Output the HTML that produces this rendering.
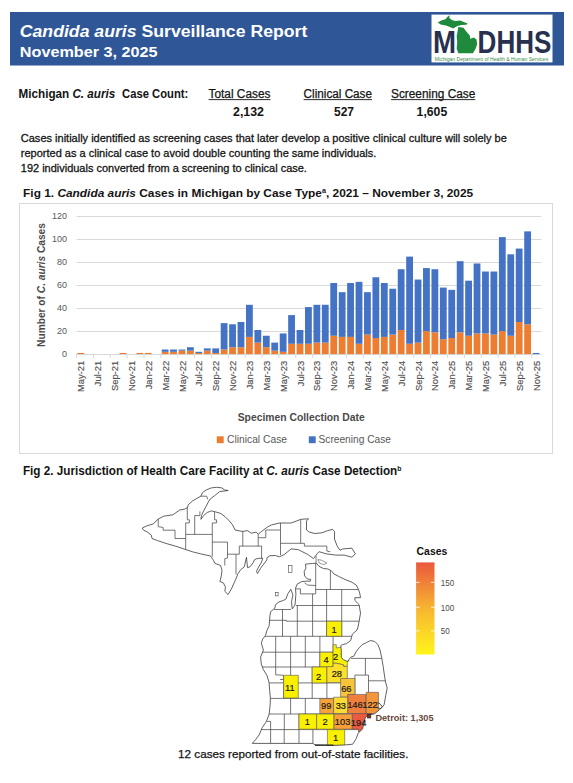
<!DOCTYPE html>
<html><head><meta charset="utf-8"><title>Candida auris Surveillance Report</title>
<style>
html,body{margin:0;padding:0;background:#ffffff;}
body{width:573px;height:783px;overflow:hidden;}
svg{display:block;font-family:"Liberation Sans", sans-serif;}
</style></head><body>
<svg width="573" height="783" viewBox="0 0 573 783">
<rect x="10" y="12" width="554" height="53.5" fill="#2F5798"/>
<text x="19.8" y="36.8" font-size="16.8" font-weight="bold" font-style="normal" fill="#ffffff" text-anchor="start" textLength="287.5" lengthAdjust="spacingAndGlyphs" ><tspan font-style="italic">Candida auris</tspan> Surveillance Report</text>
<text x="19.8" y="56.9" font-size="14.4" font-weight="bold" font-style="normal" fill="#ffffff" text-anchor="start" textLength="137.8" lengthAdjust="spacingAndGlyphs" >November 3, 2025</text>
<rect x="431.5" y="14.6" width="121" height="47.8" fill="#ffffff"/>

<g>
<text x="433.1" y="53.4" font-size="31" font-weight="bold" fill="#27304f" textLength="23" lengthAdjust="spacingAndGlyphs">M</text>
<text x="477.6" y="53.4" font-size="31" font-weight="bold" fill="#27304f" textLength="73.8" lengthAdjust="spacingAndGlyphs">DHHS</text>
<polygon fill="#1f8a3b" points="437.8,22.6 441.2,20.6 445.4,19.2 447.8,16.6 449.8,15.2 449.2,17.8 451.8,20.0 455.3,21.0 460.4,20.5 463.8,22.0 467.6,23.4 466.4,24.8 461.6,24.9 457.4,26.0 453.2,28.6 451.0,27.4 446.0,25.4 440.6,24.6"/>
<polygon fill="#1f8a3b" points="458.3,27.1 463.5,27.7 466.1,31.3 469.8,35.5 470.3,38.7 474,37.6 476.6,39.7 477.1,44.4 475.5,49.1 472.9,53.3 458.3,53.3 456.7,48.6 457.2,42.3 456.7,36 457.7,30.8"/>
<text x="434.8" y="60.6" font-size="5" fill="#3d8a4a" textLength="113.4" lengthAdjust="spacingAndGlyphs">Michigan Department of Health &amp; Human Services</text>
</g>
<text x="18.6" y="97.9" font-size="12" font-weight="bold" font-style="normal" fill="#141414" text-anchor="start" textLength="96.6" lengthAdjust="spacingAndGlyphs" >Michigan <tspan font-style="italic">C. auris</tspan></text>
<text x="122.1" y="97.9" font-size="12" font-weight="bold" font-style="normal" fill="#141414" text-anchor="start" textLength="66.2" lengthAdjust="spacingAndGlyphs" >Case Count:</text>
<text x="208.6" y="97.9" font-size="12" font-weight="normal" font-style="normal" fill="#141414" text-anchor="start" textLength="61.8" lengthAdjust="spacingAndGlyphs" stroke="#141414" stroke-width="0.25">Total Cases</text>
<rect x="208.6" y="99.2" width="61.8" height="0.9" fill="#141414"/>
<text x="233" y="115.7" font-size="12" font-weight="bold" font-style="normal" fill="#141414" text-anchor="start" textLength="31" lengthAdjust="spacingAndGlyphs" >2,132</text>
<text x="303.6" y="97.9" font-size="12" font-weight="normal" font-style="normal" fill="#141414" text-anchor="start" textLength="68.4" lengthAdjust="spacingAndGlyphs" stroke="#141414" stroke-width="0.25">Clinical Case</text>
<rect x="303.6" y="99.2" width="68.4" height="0.9" fill="#141414"/>
<text x="334" y="115.7" font-size="12" font-weight="bold" font-style="normal" fill="#141414" text-anchor="start" textLength="20" lengthAdjust="spacingAndGlyphs" >527</text>
<text x="391" y="97.9" font-size="12" font-weight="normal" font-style="normal" fill="#141414" text-anchor="start" textLength="84.3" lengthAdjust="spacingAndGlyphs" stroke="#141414" stroke-width="0.25">Screening Case</text>
<rect x="391" y="99.2" width="84.3" height="0.9" fill="#141414"/>
<text x="416.6" y="115.7" font-size="12" font-weight="bold" font-style="normal" fill="#141414" text-anchor="start" textLength="30.6" lengthAdjust="spacingAndGlyphs" >1,605</text>
<text x="20.8" y="142.1" font-size="10.6" font-weight="normal" font-style="normal" fill="#141414" text-anchor="start" textLength="486" lengthAdjust="spacingAndGlyphs" stroke="#141414" stroke-width="0.28">Cases initially identified as screening cases that later develop a positive clinical culture will solely be</text>
<text x="20.8" y="156.9" font-size="10.6" font-weight="normal" font-style="normal" fill="#141414" text-anchor="start" textLength="355.5" lengthAdjust="spacingAndGlyphs" stroke="#141414" stroke-width="0.28">reported as a clinical case to avoid double counting the same individuals.</text>
<text x="20.8" y="171.8" font-size="10.6" font-weight="normal" font-style="normal" fill="#141414" text-anchor="start" textLength="286.1" lengthAdjust="spacingAndGlyphs" stroke="#141414" stroke-width="0.28">192 individuals converted from a screening to clinical case.</text>
<text x="23.1" y="197.4" font-size="11.6" font-weight="bold" font-style="normal" fill="#141414" text-anchor="start" textLength="450.1" lengthAdjust="spacingAndGlyphs" >Fig 1. <tspan font-style="italic">Candida auris</tspan> Cases in Michigan by Case Type<tspan font-size="7" dy="-4">a</tspan><tspan dy="4">, 2021 &#8211;  November 3, 2025</tspan></text>
<rect x="19.5" y="203.5" width="533" height="250" fill="none" stroke="#D9D9D9" stroke-width="1"/>
<text x="62.0" y="357.1" font-size="8.6" font-weight="normal" font-style="normal" fill="#595959" text-anchor="start" textLength="5.0" lengthAdjust="spacingAndGlyphs" >0</text>
<rect x="76.60" y="331" width="464.60" height="1" fill="#D9D9D9"/>
<text x="57.0" y="334.16" font-size="8.6" font-weight="normal" font-style="normal" fill="#595959" text-anchor="start" textLength="10.0" lengthAdjust="spacingAndGlyphs" >20</text>
<rect x="76.60" y="308" width="464.60" height="1" fill="#D9D9D9"/>
<text x="57.0" y="311.22" font-size="8.6" font-weight="normal" font-style="normal" fill="#595959" text-anchor="start" textLength="10.0" lengthAdjust="spacingAndGlyphs" >40</text>
<rect x="76.60" y="285" width="464.60" height="1" fill="#D9D9D9"/>
<text x="57.0" y="288.28000000000003" font-size="8.6" font-weight="normal" font-style="normal" fill="#595959" text-anchor="start" textLength="10.0" lengthAdjust="spacingAndGlyphs" >60</text>
<rect x="76.60" y="262" width="464.60" height="1" fill="#D9D9D9"/>
<text x="57.0" y="265.34000000000003" font-size="8.6" font-weight="normal" font-style="normal" fill="#595959" text-anchor="start" textLength="10.0" lengthAdjust="spacingAndGlyphs" >80</text>
<rect x="76.60" y="239" width="464.60" height="1" fill="#D9D9D9"/>
<text x="52.0" y="242.40000000000003" font-size="8.6" font-weight="normal" font-style="normal" fill="#595959" text-anchor="start" textLength="15.0" lengthAdjust="spacingAndGlyphs" >100</text>
<rect x="76.60" y="216" width="464.60" height="1" fill="#D9D9D9"/>
<text x="52.0" y="219.46" font-size="8.6" font-weight="normal" font-style="normal" fill="#595959" text-anchor="start" textLength="15.0" lengthAdjust="spacingAndGlyphs" >120</text>
<rect x="76.60" y="354" width="464.60" height="1" fill="#D9D9D9"/>
<rect x="76.10" y="354" width="1" height="4" fill="#D9D9D9"/>
<rect x="92.96" y="354" width="1" height="4" fill="#D9D9D9"/>
<rect x="109.82" y="354" width="1" height="4" fill="#D9D9D9"/>
<rect x="126.68" y="354" width="1" height="4" fill="#D9D9D9"/>
<rect x="143.54" y="354" width="1" height="4" fill="#D9D9D9"/>
<rect x="160.40" y="354" width="1" height="4" fill="#D9D9D9"/>
<rect x="177.26" y="354" width="1" height="4" fill="#D9D9D9"/>
<rect x="194.12" y="354" width="1" height="4" fill="#D9D9D9"/>
<rect x="210.98" y="354" width="1" height="4" fill="#D9D9D9"/>
<rect x="227.84" y="354" width="1" height="4" fill="#D9D9D9"/>
<rect x="244.70" y="354" width="1" height="4" fill="#D9D9D9"/>
<rect x="261.56" y="354" width="1" height="4" fill="#D9D9D9"/>
<rect x="278.42" y="354" width="1" height="4" fill="#D9D9D9"/>
<rect x="295.28" y="354" width="1" height="4" fill="#D9D9D9"/>
<rect x="312.14" y="354" width="1" height="4" fill="#D9D9D9"/>
<rect x="329.00" y="354" width="1" height="4" fill="#D9D9D9"/>
<rect x="345.86" y="354" width="1" height="4" fill="#D9D9D9"/>
<rect x="362.72" y="354" width="1" height="4" fill="#D9D9D9"/>
<rect x="379.58" y="354" width="1" height="4" fill="#D9D9D9"/>
<rect x="396.44" y="354" width="1" height="4" fill="#D9D9D9"/>
<rect x="413.30" y="354" width="1" height="4" fill="#D9D9D9"/>
<rect x="430.16" y="354" width="1" height="4" fill="#D9D9D9"/>
<rect x="447.02" y="354" width="1" height="4" fill="#D9D9D9"/>
<rect x="463.88" y="354" width="1" height="4" fill="#D9D9D9"/>
<rect x="480.74" y="354" width="1" height="4" fill="#D9D9D9"/>
<rect x="497.60" y="354" width="1" height="4" fill="#D9D9D9"/>
<rect x="514.46" y="354" width="1" height="4" fill="#D9D9D9"/>
<rect x="531.32" y="354" width="1" height="4" fill="#D9D9D9"/>
<rect x="77.41" y="352.95" width="6.8" height="1.15" fill="#ED7D31"/>
<rect x="119.56" y="352.95" width="6.8" height="1.15" fill="#ED7D31"/>
<rect x="136.42" y="352.95" width="6.8" height="1.15" fill="#ED7D31"/>
<rect x="144.85" y="352.95" width="6.8" height="1.15" fill="#ED7D31"/>
<rect x="161.72" y="351.81" width="6.8" height="2.29" fill="#ED7D31"/>
<rect x="161.72" y="349.51" width="6.8" height="2.29" fill="#4472C4"/>
<rect x="170.14" y="351.81" width="6.8" height="2.29" fill="#ED7D31"/>
<rect x="170.14" y="349.51" width="6.8" height="2.29" fill="#4472C4"/>
<rect x="178.57" y="350.66" width="6.8" height="3.44" fill="#ED7D31"/>
<rect x="178.57" y="349.51" width="6.8" height="1.15" fill="#4472C4"/>
<rect x="187.00" y="350.66" width="6.8" height="3.44" fill="#ED7D31"/>
<rect x="187.00" y="347.22" width="6.8" height="3.44" fill="#4472C4"/>
<rect x="195.43" y="352.95" width="6.8" height="1.15" fill="#ED7D31"/>
<rect x="195.43" y="351.81" width="6.8" height="1.15" fill="#4472C4"/>
<rect x="203.86" y="350.66" width="6.8" height="3.44" fill="#ED7D31"/>
<rect x="203.86" y="348.37" width="6.8" height="2.29" fill="#4472C4"/>
<rect x="212.29" y="352.95" width="6.8" height="1.15" fill="#ED7D31"/>
<rect x="212.29" y="348.37" width="6.8" height="4.59" fill="#4472C4"/>
<rect x="220.72" y="349.51" width="6.8" height="4.59" fill="#ED7D31"/>
<rect x="220.72" y="323.13" width="6.8" height="26.38" fill="#4472C4"/>
<rect x="229.15" y="347.22" width="6.8" height="6.88" fill="#ED7D31"/>
<rect x="229.15" y="324.28" width="6.8" height="22.94" fill="#4472C4"/>
<rect x="237.58" y="347.22" width="6.8" height="6.88" fill="#ED7D31"/>
<rect x="237.58" y="321.98" width="6.8" height="25.23" fill="#4472C4"/>
<rect x="246.01" y="336.90" width="6.8" height="17.21" fill="#ED7D31"/>
<rect x="246.01" y="304.78" width="6.8" height="32.12" fill="#4472C4"/>
<rect x="254.45" y="342.63" width="6.8" height="11.47" fill="#ED7D31"/>
<rect x="254.45" y="330.01" width="6.8" height="12.62" fill="#4472C4"/>
<rect x="262.88" y="347.22" width="6.8" height="6.88" fill="#ED7D31"/>
<rect x="262.88" y="335.75" width="6.8" height="11.47" fill="#4472C4"/>
<rect x="271.31" y="350.66" width="6.8" height="3.44" fill="#ED7D31"/>
<rect x="271.31" y="342.63" width="6.8" height="8.03" fill="#4472C4"/>
<rect x="279.74" y="351.81" width="6.8" height="2.29" fill="#ED7D31"/>
<rect x="279.74" y="333.45" width="6.8" height="18.35" fill="#4472C4"/>
<rect x="288.17" y="343.78" width="6.8" height="10.32" fill="#ED7D31"/>
<rect x="288.17" y="315.10" width="6.8" height="28.68" fill="#4472C4"/>
<rect x="296.60" y="343.78" width="6.8" height="10.32" fill="#ED7D31"/>
<rect x="296.60" y="330.01" width="6.8" height="13.76" fill="#4472C4"/>
<rect x="305.02" y="343.78" width="6.8" height="10.32" fill="#ED7D31"/>
<rect x="305.02" y="307.07" width="6.8" height="36.70" fill="#4472C4"/>
<rect x="313.46" y="342.63" width="6.8" height="11.47" fill="#ED7D31"/>
<rect x="313.46" y="304.78" width="6.8" height="37.85" fill="#4472C4"/>
<rect x="321.88" y="342.63" width="6.8" height="11.47" fill="#ED7D31"/>
<rect x="321.88" y="304.78" width="6.8" height="37.85" fill="#4472C4"/>
<rect x="330.32" y="335.75" width="6.8" height="18.35" fill="#ED7D31"/>
<rect x="330.32" y="282.99" width="6.8" height="52.76" fill="#4472C4"/>
<rect x="338.75" y="336.90" width="6.8" height="17.21" fill="#ED7D31"/>
<rect x="338.75" y="292.16" width="6.8" height="44.73" fill="#4472C4"/>
<rect x="347.17" y="336.90" width="6.8" height="17.21" fill="#ED7D31"/>
<rect x="347.17" y="282.99" width="6.8" height="53.91" fill="#4472C4"/>
<rect x="355.61" y="343.78" width="6.8" height="10.32" fill="#ED7D31"/>
<rect x="355.61" y="281.84" width="6.8" height="61.94" fill="#4472C4"/>
<rect x="364.03" y="334.60" width="6.8" height="19.50" fill="#ED7D31"/>
<rect x="364.03" y="292.16" width="6.8" height="42.44" fill="#4472C4"/>
<rect x="372.47" y="338.04" width="6.8" height="16.06" fill="#ED7D31"/>
<rect x="372.47" y="277.25" width="6.8" height="60.79" fill="#4472C4"/>
<rect x="380.89" y="336.90" width="6.8" height="17.21" fill="#ED7D31"/>
<rect x="380.89" y="282.99" width="6.8" height="53.91" fill="#4472C4"/>
<rect x="389.33" y="334.60" width="6.8" height="19.50" fill="#ED7D31"/>
<rect x="389.33" y="288.72" width="6.8" height="45.88" fill="#4472C4"/>
<rect x="397.75" y="330.01" width="6.8" height="24.09" fill="#ED7D31"/>
<rect x="397.75" y="269.22" width="6.8" height="60.79" fill="#4472C4"/>
<rect x="406.19" y="343.78" width="6.8" height="10.32" fill="#ED7D31"/>
<rect x="406.19" y="256.61" width="6.8" height="87.17" fill="#4472C4"/>
<rect x="414.62" y="342.63" width="6.8" height="11.47" fill="#ED7D31"/>
<rect x="414.62" y="279.55" width="6.8" height="63.09" fill="#4472C4"/>
<rect x="423.04" y="331.16" width="6.8" height="22.94" fill="#ED7D31"/>
<rect x="423.04" y="268.08" width="6.8" height="63.09" fill="#4472C4"/>
<rect x="431.48" y="332.31" width="6.8" height="21.79" fill="#ED7D31"/>
<rect x="431.48" y="269.22" width="6.8" height="63.09" fill="#4472C4"/>
<rect x="439.90" y="339.19" width="6.8" height="14.91" fill="#ED7D31"/>
<rect x="439.90" y="287.57" width="6.8" height="51.62" fill="#4472C4"/>
<rect x="448.34" y="338.04" width="6.8" height="16.06" fill="#ED7D31"/>
<rect x="448.34" y="289.87" width="6.8" height="48.17" fill="#4472C4"/>
<rect x="456.76" y="332.31" width="6.8" height="21.79" fill="#ED7D31"/>
<rect x="456.76" y="261.19" width="6.8" height="71.11" fill="#4472C4"/>
<rect x="465.20" y="335.75" width="6.8" height="18.35" fill="#ED7D31"/>
<rect x="465.20" y="280.69" width="6.8" height="55.06" fill="#4472C4"/>
<rect x="473.62" y="333.45" width="6.8" height="20.65" fill="#ED7D31"/>
<rect x="473.62" y="263.49" width="6.8" height="69.97" fill="#4472C4"/>
<rect x="482.05" y="333.45" width="6.8" height="20.65" fill="#ED7D31"/>
<rect x="482.05" y="271.52" width="6.8" height="61.94" fill="#4472C4"/>
<rect x="490.49" y="334.60" width="6.8" height="19.50" fill="#ED7D31"/>
<rect x="490.49" y="271.52" width="6.8" height="63.09" fill="#4472C4"/>
<rect x="498.91" y="331.16" width="6.8" height="22.94" fill="#ED7D31"/>
<rect x="498.91" y="237.11" width="6.8" height="94.05" fill="#4472C4"/>
<rect x="507.35" y="335.75" width="6.8" height="18.35" fill="#ED7D31"/>
<rect x="507.35" y="254.31" width="6.8" height="81.44" fill="#4472C4"/>
<rect x="515.77" y="321.98" width="6.8" height="32.12" fill="#ED7D31"/>
<rect x="515.77" y="248.58" width="6.8" height="73.41" fill="#4472C4"/>
<rect x="524.21" y="324.28" width="6.8" height="29.82" fill="#ED7D31"/>
<rect x="524.21" y="231.37" width="6.8" height="92.91" fill="#4472C4"/>
<rect x="532.63" y="352.95" width="6.8" height="1.15" fill="#4472C4"/>
<text transform="translate(84.41,360.7) rotate(-90)" font-size="9.4" fill="#505050" text-anchor="end" stroke="#505050" stroke-width="0.15">May-21</text>
<text transform="translate(101.27,360.7) rotate(-90)" font-size="9.4" fill="#505050" text-anchor="end" stroke="#505050" stroke-width="0.15">Jul-21</text>
<text transform="translate(118.13,360.7) rotate(-90)" font-size="9.4" fill="#505050" text-anchor="end" stroke="#505050" stroke-width="0.15">Sep-21</text>
<text transform="translate(134.99,360.7) rotate(-90)" font-size="9.4" fill="#505050" text-anchor="end" stroke="#505050" stroke-width="0.15">Nov-21</text>
<text transform="translate(151.85,360.7) rotate(-90)" font-size="9.4" fill="#505050" text-anchor="end" stroke="#505050" stroke-width="0.15">Jan-22</text>
<text transform="translate(168.72,360.7) rotate(-90)" font-size="9.4" fill="#505050" text-anchor="end" stroke="#505050" stroke-width="0.15">Mar-22</text>
<text transform="translate(185.57,360.7) rotate(-90)" font-size="9.4" fill="#505050" text-anchor="end" stroke="#505050" stroke-width="0.15">May-22</text>
<text transform="translate(202.43,360.7) rotate(-90)" font-size="9.4" fill="#505050" text-anchor="end" stroke="#505050" stroke-width="0.15">Jul-22</text>
<text transform="translate(219.29,360.7) rotate(-90)" font-size="9.4" fill="#505050" text-anchor="end" stroke="#505050" stroke-width="0.15">Sep-22</text>
<text transform="translate(236.15,360.7) rotate(-90)" font-size="9.4" fill="#505050" text-anchor="end" stroke="#505050" stroke-width="0.15">Nov-22</text>
<text transform="translate(253.01,360.7) rotate(-90)" font-size="9.4" fill="#505050" text-anchor="end" stroke="#505050" stroke-width="0.15">Jan-23</text>
<text transform="translate(269.88,360.7) rotate(-90)" font-size="9.4" fill="#505050" text-anchor="end" stroke="#505050" stroke-width="0.15">Mar-23</text>
<text transform="translate(286.74,360.7) rotate(-90)" font-size="9.4" fill="#505050" text-anchor="end" stroke="#505050" stroke-width="0.15">May-23</text>
<text transform="translate(303.60,360.7) rotate(-90)" font-size="9.4" fill="#505050" text-anchor="end" stroke="#505050" stroke-width="0.15">Jul-23</text>
<text transform="translate(320.46,360.7) rotate(-90)" font-size="9.4" fill="#505050" text-anchor="end" stroke="#505050" stroke-width="0.15">Sep-23</text>
<text transform="translate(337.32,360.7) rotate(-90)" font-size="9.4" fill="#505050" text-anchor="end" stroke="#505050" stroke-width="0.15">Nov-23</text>
<text transform="translate(354.17,360.7) rotate(-90)" font-size="9.4" fill="#505050" text-anchor="end" stroke="#505050" stroke-width="0.15">Jan-24</text>
<text transform="translate(371.03,360.7) rotate(-90)" font-size="9.4" fill="#505050" text-anchor="end" stroke="#505050" stroke-width="0.15">Mar-24</text>
<text transform="translate(387.89,360.7) rotate(-90)" font-size="9.4" fill="#505050" text-anchor="end" stroke="#505050" stroke-width="0.15">May-24</text>
<text transform="translate(404.75,360.7) rotate(-90)" font-size="9.4" fill="#505050" text-anchor="end" stroke="#505050" stroke-width="0.15">Jul-24</text>
<text transform="translate(421.62,360.7) rotate(-90)" font-size="9.4" fill="#505050" text-anchor="end" stroke="#505050" stroke-width="0.15">Sep-24</text>
<text transform="translate(438.48,360.7) rotate(-90)" font-size="9.4" fill="#505050" text-anchor="end" stroke="#505050" stroke-width="0.15">Nov-24</text>
<text transform="translate(455.34,360.7) rotate(-90)" font-size="9.4" fill="#505050" text-anchor="end" stroke="#505050" stroke-width="0.15">Jan-25</text>
<text transform="translate(472.20,360.7) rotate(-90)" font-size="9.4" fill="#505050" text-anchor="end" stroke="#505050" stroke-width="0.15">Mar-25</text>
<text transform="translate(489.05,360.7) rotate(-90)" font-size="9.4" fill="#505050" text-anchor="end" stroke="#505050" stroke-width="0.15">May-25</text>
<text transform="translate(505.91,360.7) rotate(-90)" font-size="9.4" fill="#505050" text-anchor="end" stroke="#505050" stroke-width="0.15">Jul-25</text>
<text transform="translate(522.77,360.7) rotate(-90)" font-size="9.4" fill="#505050" text-anchor="end" stroke="#505050" stroke-width="0.15">Sep-25</text>
<text transform="translate(539.63,360.7) rotate(-90)" font-size="9.4" fill="#505050" text-anchor="end" stroke="#505050" stroke-width="0.15">Nov-25</text>
<text transform="translate(45.2,285) rotate(-90)" font-size="10.4" font-weight="bold" fill="#4a4a4a" text-anchor="middle" textLength="123.8" lengthAdjust="spacingAndGlyphs">Number of <tspan font-style="italic">C. auris</tspan> Cases</text>
<text x="237.7" y="421.4" font-size="10.3" font-weight="bold" font-style="normal" fill="#4a4a4a" text-anchor="start" textLength="127" lengthAdjust="spacingAndGlyphs" >Specimen Collection Date</text>
<rect x="216.8" y="436.3" width="6.9" height="6.9" fill="#ED7D31"/>
<text x="227" y="443.2" font-size="10.1" font-weight="normal" font-style="normal" fill="#595959" text-anchor="start" textLength="60" lengthAdjust="spacingAndGlyphs" >Clinical Case</text>
<rect x="308.8" y="436.3" width="6.9" height="6.9" fill="#4472C4"/>
<text x="318.5" y="443.2" font-size="10.1" font-weight="normal" font-style="normal" fill="#595959" text-anchor="start" textLength="72.5" lengthAdjust="spacingAndGlyphs" >Screening Case</text>
<text x="22.9" y="474.6" font-size="12.1" font-weight="bold" font-style="normal" fill="#141414" text-anchor="start" textLength="378.5" lengthAdjust="spacingAndGlyphs" >Fig 2. Jurisdiction of Health Care Facility at <tspan font-style="italic">C. auris</tspan> Case Detection<tspan font-size="7" dy="-4">b</tspan></text>
<defs><clipPath id="lpclip"><polygon points="305.5,564.2 308.6,563.8 312.5,563.5 316.4,563.2 319.0,566.3 323.4,568.5 327.8,569.0 331.2,570.7 334.0,574.0 339.5,576.8 345.1,579.5 352.1,582.3 356.3,585.1 358.4,589.3 359.8,593.5 360.5,597.7 354.9,597.7 354.9,600.5 359.1,604.7 360.5,613.1 359.1,621.4 358.0,627.0 357.0,630.0 352.3,634.2 351.8,636.3 350.7,640.5 346.5,643.6 342.3,644.7 340.8,645.7 341.3,650.9 341.3,657.2 343.4,659.8 347.6,661.4 349.1,659.3 350.7,657.2 353.8,656.2 355.9,652.0 359.1,647.8 362.2,644.7 366.4,642.6 370.6,640.5 374.8,641.5 377.9,644.7 380.0,649.9 381.6,657.2 383.2,666.6 384.7,677.1 385.5,682.0 387.2,688.0 385.7,695.7 384.1,704.8 381.8,707.6 379.5,709.5 378.0,711.0 374.2,714.0 368.1,714.9 365.3,717.7 363.9,723.3 362.5,728.9 358.3,733.1 356.2,738.6 352.7,744.2 345.7,744.9 333.1,745.4 315.0,744.9 312.9,743.4 252.3,743.4 255.9,739.2 259.1,735.0 262.2,727.7 266.4,721.4 269.0,714.6 270.1,705.7 270.4,698.3 269.7,690.6 269.0,682.2 266.9,675.3 263.4,669.7 261.3,664.1 260.6,657.1 263.4,650.1 261.3,643.2 262.7,639.0 265.5,635.5 266.9,630.6 269.2,625.6 269.9,615.8 270.6,611.7 274.8,608.2 275.5,604.7 279.0,601.9 283.2,600.5 285.9,599.1 288.0,593.5 290.8,589.3 292.9,594.9 291.5,601.9 292.2,608.9 295.0,605.0 295.9,594.3 295.5,588.2 297.2,584.2 301.6,581.6 305.9,581.2 310.3,581.2 310.7,579.4 307.3,579.0 304.6,575.9 304.2,571.6 305.9,568.1"/></clipPath></defs>
<g clip-path="url(#lpclip)">
<polyline points="304.6,582.9 307.7,585.1 315.7,585.5" fill="none" stroke="#484848" stroke-width="0.75"/>
<polyline points="296.0,588.9 300.4,588.9 300.4,593.9 315.7,593.9" fill="none" stroke="#484848" stroke-width="0.75"/>
<polyline points="315.7,556.0 315.7,593.9" fill="none" stroke="#484848" stroke-width="0.75"/>
<polyline points="315.7,589.5 362.0,589.5" fill="none" stroke="#484848" stroke-width="0.75"/>
<polyline points="330.4,570.7 330.4,589.5" fill="none" stroke="#484848" stroke-width="0.75"/>
<polyline points="312.6,593.9 312.6,636.3" fill="none" stroke="#484848" stroke-width="0.75"/>
<polyline points="326.6,589.5 326.6,636.3" fill="none" stroke="#484848" stroke-width="0.75"/>
<polyline points="341.7,589.5 341.7,636.3" fill="none" stroke="#484848" stroke-width="0.75"/>
<polyline points="274.2,609.5 291.0,609.5" fill="none" stroke="#484848" stroke-width="0.75"/>
<polyline points="296.0,605.5 362.0,605.5" fill="none" stroke="#484848" stroke-width="0.75"/>
<polyline points="282.5,609.5 282.5,636.3" fill="none" stroke="#484848" stroke-width="0.75"/>
<polyline points="297.3,605.5 297.3,636.3" fill="none" stroke="#484848" stroke-width="0.75"/>
<polyline points="265.0,620.3 286.4,620.3 286.4,621.2 362.0,621.2" fill="none" stroke="#484848" stroke-width="0.75"/>
<polyline points="260.0,636.3 365.0,636.3" fill="none" stroke="#484848" stroke-width="0.75"/>
<polyline points="275.7,636.3 275.7,674.8" fill="none" stroke="#484848" stroke-width="0.75"/>
<polyline points="290.6,636.3 290.6,675.3" fill="none" stroke="#484848" stroke-width="0.75"/>
<polyline points="305.3,636.3 305.3,667.2" fill="none" stroke="#484848" stroke-width="0.75"/>
<polyline points="319.9,636.3 319.9,667.2" fill="none" stroke="#484848" stroke-width="0.75"/>
<polyline points="333.1,636.3 333.1,664.1" fill="none" stroke="#484848" stroke-width="0.75"/>
<polyline points="255.0,652.2 333.1,652.2" fill="none" stroke="#484848" stroke-width="0.75"/>
<polyline points="255.0,667.0 333.1,667.0" fill="none" stroke="#484848" stroke-width="0.75"/>
<polyline points="312.2,667.0 312.2,698.4" fill="none" stroke="#484848" stroke-width="0.75"/>
<polyline points="275.7,674.8 283.6,675.3" fill="none" stroke="#484848" stroke-width="0.75"/>
<polyline points="265.0,682.9 340.8,682.9" fill="none" stroke="#484848" stroke-width="0.75"/>
<polyline points="280.1,679.5 283.6,679.5" fill="none" stroke="#484848" stroke-width="0.75"/>
<polyline points="283.6,675.3 283.6,698.4" fill="none" stroke="#484848" stroke-width="0.75"/>
<polyline points="326.9,682.9 326.9,698.4" fill="none" stroke="#484848" stroke-width="0.75"/>
<polyline points="260.0,698.4 333.8,698.4" fill="none" stroke="#484848" stroke-width="0.75"/>
<polyline points="351.0,658.4 382.0,658.4" fill="none" stroke="#484848" stroke-width="0.75"/>
<polyline points="365.4,658.4 365.4,675.1 368.5,675.1 368.5,692.4" fill="none" stroke="#484848" stroke-width="0.75"/>
<polyline points="368.5,680.8 390.0,680.8" fill="none" stroke="#484848" stroke-width="0.75"/>
<polyline points="354.9,675.1 365.4,675.1" fill="none" stroke="#484848" stroke-width="0.75"/>
<polyline points="354.9,675.1 354.9,694.4" fill="none" stroke="#484848" stroke-width="0.75"/>
<polyline points="290.6,698.4 290.6,714.0" fill="none" stroke="#484848" stroke-width="0.75"/>
<polyline points="305.3,698.4 305.3,714.0" fill="none" stroke="#484848" stroke-width="0.75"/>
<polyline points="260.0,714.0 368.0,714.0" fill="none" stroke="#484848" stroke-width="0.75"/>
<polyline points="284.3,714.0 284.3,729.6" fill="none" stroke="#484848" stroke-width="0.75"/>
<polyline points="299.0,714.0 299.0,743.4" fill="none" stroke="#484848" stroke-width="0.75"/>
<polyline points="260.0,729.6 364.0,729.6" fill="none" stroke="#484848" stroke-width="0.75"/>
<polyline points="266.4,721.4 270.6,721.4 270.6,743.4" fill="none" stroke="#484848" stroke-width="0.75"/>
<polyline points="284.2,729.6 284.2,743.4" fill="none" stroke="#484848" stroke-width="0.75"/>
<polyline points="312.9,729.6 312.9,743.4" fill="none" stroke="#484848" stroke-width="0.75"/>
<polygon points="326.6,621.2 341.7,621.2 341.7,636.3 326.6,636.3" fill="#F9F000" stroke="#555" stroke-width="0.6"/>
<polygon points="319.9,652.2 333.1,652.2 333.1,667.0 319.9,667.0" fill="#F9F000" stroke="#555" stroke-width="0.6"/>
<polygon points="333.1,644.7 336.3,644.7 336.3,648.0 346.0,646.0 349.0,661.2 347.3,661.2 347.3,666.4 343.6,666.4 343.4,664.8 336.1,663.2 333.1,663.2" fill="#F9F000" stroke="#555" stroke-width="0.6"/>
<polygon points="312.2,667.0 326.9,667.0 326.9,682.9 312.2,682.9" fill="#F9F000" stroke="#555" stroke-width="0.6"/>
<polygon points="326.9,666.6 333.1,666.6 333.1,663.2 336.1,663.2 343.4,664.8 343.6,666.4 347.3,666.4 347.3,682.6 326.9,682.6" fill="#FBE02C" stroke="#555" stroke-width="0.6"/>
<polygon points="283.6,675.3 298.3,675.3 298.3,698.0 283.6,698.0" fill="#F9F000" stroke="#555" stroke-width="0.6"/>
<polygon points="340.6,678.5 354.9,678.5 354.9,694.6 347.8,694.6 347.8,697.2 340.6,697.2" fill="#F9C43A" stroke="#555" stroke-width="0.6"/>
<polygon points="319.8,698.6 333.6,698.6 333.6,713.6 319.8,713.6" fill="#F6A43A" stroke="#555" stroke-width="0.6"/>
<polygon points="333.6,697.2 347.8,697.2 347.8,713.6 333.6,713.6" fill="#FBDA33" stroke="#555" stroke-width="0.6"/>
<polygon points="347.8,694.4 366.2,694.4 366.2,713.6 347.8,713.6" fill="#F07F3E" stroke="#555" stroke-width="0.6"/>
<polygon points="366.2,692.3 378.5,692.3 378.5,713.6 366.2,713.6" fill="#F4953A" stroke="#555" stroke-width="0.6"/>
<polygon points="299.0,714.0 316.6,714.0 316.6,729.2 299.0,729.2" fill="#F9F000" stroke="#555" stroke-width="0.6"/>
<polygon points="316.6,714.0 334.0,714.0 334.0,729.2 316.6,729.2" fill="#F9F000" stroke="#555" stroke-width="0.6"/>
<polygon points="334.0,714.0 352.3,714.0 352.3,729.2 334.0,729.2" fill="#F5A03B" stroke="#555" stroke-width="0.6"/>
<polygon points="352.3,713.6 372.0,713.6 372.0,732.0 358.5,732.0 358.5,729.2 352.3,729.2" fill="#EB5A3F" stroke="#555" stroke-width="0.6"/>
<polygon points="327.4,729.6 344.7,729.6 344.7,745.5 327.4,745.5" fill="#F9F000" stroke="#555" stroke-width="0.6"/>
</g>
<polyline points="158.2,519.0 158.2,526.7 163.1,527.4 163.1,530.2 175.0,530.2 175.0,538.5 185.7,538.5" fill="none" stroke="#484848" stroke-width="0.75"/>
<polyline points="187.3,507.7 187.3,519.8 189.4,519.8 189.4,522.9 185.7,522.9 185.7,549.0" fill="none" stroke="#484848" stroke-width="0.75"/>
<polyline points="185.7,534.4 212.3,534.4" fill="none" stroke="#484848" stroke-width="0.75"/>
<polyline points="194.7,534.4 194.7,515.6 199.9,515.6 199.9,511.4" fill="none" stroke="#484848" stroke-width="0.75"/>
<polyline points="214.6,511.9 214.6,519.8 216.6,519.8 216.6,522.9 212.3,522.9 212.3,556.5" fill="none" stroke="#484848" stroke-width="0.75"/>
<polyline points="212.3,542.1 227.5,542.1 227.5,558.0 224.8,558.6 224.8,565.5" fill="none" stroke="#484848" stroke-width="0.75"/>
<polyline points="227.5,554.2 239.3,554.2 239.3,546.1 261.7,546.1" fill="none" stroke="#484848" stroke-width="0.75"/>
<polyline points="236.0,554.2 236.0,574.5" fill="none" stroke="#484848" stroke-width="0.75"/>
<polyline points="242.8,531.4 242.8,546.1" fill="none" stroke="#484848" stroke-width="0.75"/>
<polyline points="258.2,534.2 258.2,546.1" fill="none" stroke="#484848" stroke-width="0.75"/>
<polyline points="258.2,537.7 265.8,537.7 265.8,530.0 280.5,530.0" fill="none" stroke="#484848" stroke-width="0.75"/>
<polyline points="280.5,523.0 280.5,555.1" fill="none" stroke="#484848" stroke-width="0.75"/>
<polyline points="280.5,543.3 304.4,543.3 304.4,546.1 326.8,546.1 326.8,551.0 330.3,551.7" fill="none" stroke="#484848" stroke-width="0.75"/>
<polyline points="300.7,519.5 300.7,543.3" fill="none" stroke="#484848" stroke-width="0.75"/>
<polyline points="261.6,546.1 261.6,558.3" fill="none" stroke="#484848" stroke-width="0.75"/>
<polyline points="200.9,496.2 206.7,496.2 207.7,499.4" fill="none" stroke="#484848" stroke-width="0.75"/>
<polygon points="142.2,528.1 146.4,526.0 153.4,523.9 158.2,519.0 163.8,516.2 172.9,514.8 179.9,509.9 184.2,509.3 187.3,507.7 188.4,504.6 192.6,500.9 197.8,497.8 200.9,496.2 202.5,492.6 206.2,489.9 211.4,487.9 216.6,487.3 221.9,487.9 224.5,489.9 228.2,490.5 224.0,491.0 219.8,491.5 217.2,493.6 214.6,495.7 210.4,498.8 208.3,502.0 206.2,506.2 203.6,510.9 201.5,515.6 200.9,519.3 203.6,515.6 207.2,512.5 211.4,510.9 215.6,511.9 220.8,513.5 225.0,516.6 229.2,520.8 232.3,524.4 235.1,530.0 242.1,531.4 247.7,530.7 251.2,533.2 256.1,532.1 258.2,534.2 261.7,531.4 267.2,527.2 271.4,524.9 279.8,523.0 291.2,523.0 296.8,520.9 300.9,519.3 308.6,518.8 306.5,520.9 306.5,530.0 309.3,532.1 314.9,533.5 321.9,532.8 327.5,530.7 332.4,529.3 334.5,531.4 334.5,539.1 337.2,546.1 340.0,550.3 342.8,548.9 351.9,548.2 355.4,553.8 351.9,557.2 344.2,555.1 335.8,555.1 326.1,553.8 319.1,551.7 317.7,553.1 313.5,558.6 307.9,554.5 298.2,549.6 291.2,548.9 287.7,551.7 284.2,554.5 279.5,556.8 275.3,555.5 270.0,555.7 266.9,557.8 266.9,559.9 263.7,564.1 260.6,568.3 257.5,573.5 256.4,571.4 258.5,567.2 261.6,562.0 262.7,558.3 259.6,558.3 256.4,558.8 254.3,559.9 253.3,562.5 250.1,566.7 247.5,567.7 246.5,557.3 245.4,562.0 244.4,566.7 240.7,569.8 238.1,573.5 235.5,579.8 231.3,589.2 228.1,594.5 224.8,591.3 225.5,587.1 223.4,582.9 219.9,581.5 221.3,575.9 222.0,570.4 220.6,565.5 215.0,563.4 213.4,560.2 210.6,556.0 200.8,553.9 192.5,551.8 184.1,549.0 175.7,546.2 165.9,543.4 157.5,540.6 152.0,538.5 151.3,535.1 147.8,532.3 143.6,530.2" fill="none" stroke="#3a3a3a" stroke-width="0.8" stroke-linejoin="round"/>
<polygon points="305.5,564.2 308.6,563.8 312.5,563.5 316.4,563.2 319.0,566.3 323.4,568.5 327.8,569.0 331.2,570.7 334.0,574.0 339.5,576.8 345.1,579.5 352.1,582.3 356.3,585.1 358.4,589.3 359.8,593.5 360.5,597.7 354.9,597.7 354.9,600.5 359.1,604.7 360.5,613.1 359.1,621.4 358.0,627.0 357.0,630.0 352.3,634.2 351.8,636.3 350.7,640.5 346.5,643.6 342.3,644.7 340.8,645.7 341.3,650.9 341.3,657.2 343.4,659.8 347.6,661.4 349.1,659.3 350.7,657.2 353.8,656.2 355.9,652.0 359.1,647.8 362.2,644.7 366.4,642.6 370.6,640.5 374.8,641.5 377.9,644.7 380.0,649.9 381.6,657.2 383.2,666.6 384.7,677.1 385.5,682.0 387.2,688.0 385.7,695.7 384.1,704.8 381.8,707.6 379.5,709.5 378.0,711.0 374.2,714.0 368.1,714.9 365.3,717.7 363.9,723.3 362.5,728.9 358.3,733.1 356.2,738.6 352.7,744.2 345.7,744.9 333.1,745.4 315.0,744.9 312.9,743.4 252.3,743.4 255.9,739.2 259.1,735.0 262.2,727.7 266.4,721.4 269.0,714.6 270.1,705.7 270.4,698.3 269.7,690.6 269.0,682.2 266.9,675.3 263.4,669.7 261.3,664.1 260.6,657.1 263.4,650.1 261.3,643.2 262.7,639.0 265.5,635.5 266.9,630.6 269.2,625.6 269.9,615.8 270.6,611.7 274.8,608.2 275.5,604.7 279.0,601.9 283.2,600.5 285.9,599.1 288.0,593.5 290.8,589.3 292.9,594.9 291.5,601.9 292.2,608.9 295.0,605.0 295.9,594.3 295.5,588.2 297.2,584.2 301.6,581.6 305.9,581.2 310.3,581.2 310.7,579.4 307.3,579.0 304.6,575.9 304.2,571.6 305.9,568.1" fill="none" stroke="#3a3a3a" stroke-width="0.8" stroke-linejoin="round"/>
<polyline points="377.5,702.5 380,703.8 382.2,706.5 381,708.5 378.6,708.2 376.8,706.8" fill="none" stroke="#3a3a3a" stroke-width="0.9"/>
<rect x="315" y="744.5" width="18.5" height="1.4" fill="#333"/>
<polygon points="317.9,559.5 321.5,560.2 326.8,563 323.8,564.6 319.5,563.2" fill="none" stroke="#555" stroke-width="0.6"/>
<line x1="316" y1="555.8" x2="316" y2="564" stroke="#5a5a5a" stroke-width="0.75"/>
<rect x="288.5" y="565.5" width="3.5" height="7" fill="none" stroke="#444" stroke-width="0.6"/>
<rect x="275.3" y="592.3" width="2.8" height="3.6" fill="none" stroke="#444" stroke-width="0.6"/>
<text x="334.1" y="632.6" font-size="9.3" fill="#1a1a1a" stroke="#1a1a1a" stroke-width="0.2" text-anchor="middle">1</text>
<text x="326.1" y="662.7" font-size="9.3" fill="#1a1a1a" stroke="#1a1a1a" stroke-width="0.2" text-anchor="middle">4</text>
<text x="335.7" y="659.6" font-size="9.3" fill="#1a1a1a" stroke="#1a1a1a" stroke-width="0.2" text-anchor="middle">2</text>
<text x="318.6" y="679.5" font-size="9.3" fill="#1a1a1a" stroke="#1a1a1a" stroke-width="0.2" text-anchor="middle">2</text>
<text x="336.8" y="676.6" font-size="9.3" fill="#1a1a1a" stroke="#1a1a1a" stroke-width="0.2" text-anchor="middle">28</text>
<text x="289.8" y="690.6" font-size="9.3" fill="#1a1a1a" stroke="#1a1a1a" stroke-width="0.2" text-anchor="middle">11</text>
<text x="346.3" y="691.6" font-size="9.3" fill="#1a1a1a" stroke="#1a1a1a" stroke-width="0.2" text-anchor="middle">66</text>
<text x="326.2" y="709.4" font-size="9.3" fill="#1a1a1a" stroke="#1a1a1a" stroke-width="0.2" text-anchor="middle">99</text>
<text x="340.8" y="709.3" font-size="9.3" fill="#1a1a1a" stroke="#1a1a1a" stroke-width="0.2" text-anchor="middle">33</text>
<text x="354.9" y="708.3" font-size="9.3" fill="#1a1a1a" stroke="#1a1a1a" stroke-width="0.2" text-anchor="middle">146</text>
<text x="370.0" y="708.3" font-size="9.3" fill="#1a1a1a" stroke="#1a1a1a" stroke-width="0.2" text-anchor="middle">122</text>
<text x="307.3" y="724.9" font-size="9.3" fill="#1a1a1a" stroke="#1a1a1a" stroke-width="0.2" text-anchor="middle">1</text>
<text x="325.1" y="725.3" font-size="9.3" fill="#1a1a1a" stroke="#1a1a1a" stroke-width="0.2" text-anchor="middle">2</text>
<text x="342.6" y="724.5" font-size="9.3" fill="#1a1a1a" stroke="#1a1a1a" stroke-width="0.2" text-anchor="middle">103</text>
<text x="358.6" y="726.3" font-size="9.3" fill="#1a1a1a" stroke="#1a1a1a" stroke-width="0.2" text-anchor="middle">194</text>
<text x="335.7" y="741.3" font-size="9.3" fill="#1a1a1a" stroke="#1a1a1a" stroke-width="0.2" text-anchor="middle">1</text>
<rect x="367.4" y="714.2" width="3.4" height="3.8" fill="#6b3d1c" stroke="#222" stroke-width="0.6"/>
<text x="375.4" y="720.7" font-size="9.2" font-weight="bold" font-style="normal" fill="#6a4a3e" text-anchor="start" textLength="58.1" lengthAdjust="spacingAndGlyphs" >Detroit: 1,305</text>
<defs><linearGradient id="lg" x1="0" y1="1" x2="0" y2="0"><stop offset="0" stop-color="#FFF51A"/><stop offset="0.5" stop-color="#F7B531"/><stop offset="1" stop-color="#EA583C"/></linearGradient></defs>
<text x="416.6" y="555.2" font-size="10.8" font-weight="bold" font-style="normal" fill="#111" text-anchor="start" textLength="30.7" lengthAdjust="spacingAndGlyphs" >Cases</text>
<rect x="416.1" y="562.4" width="18.4" height="92.1" fill="url(#lg)"/>
<rect x="416.1" y="581.9" width="3.5" height="0.8" fill="#ffffff"/>
<rect x="431.0" y="581.9" width="3.5" height="0.8" fill="#ffffff"/>
<text x="440.7" y="585.6999999999999" font-size="9.4" font-weight="normal" font-style="normal" fill="#4d4d4d" text-anchor="start" textLength="13.5" lengthAdjust="spacingAndGlyphs" >150</text>
<rect x="416.1" y="606.8000000000001" width="3.5" height="0.8" fill="#ffffff"/>
<rect x="431.0" y="606.8000000000001" width="3.5" height="0.8" fill="#ffffff"/>
<text x="440.7" y="610.6" font-size="9.4" font-weight="normal" font-style="normal" fill="#4d4d4d" text-anchor="start" textLength="13.5" lengthAdjust="spacingAndGlyphs" >100</text>
<rect x="416.1" y="630.5" width="3.5" height="0.8" fill="#ffffff"/>
<rect x="431.0" y="630.5" width="3.5" height="0.8" fill="#ffffff"/>
<text x="440.7" y="634.3" font-size="9.4" font-weight="normal" font-style="normal" fill="#4d4d4d" text-anchor="start" textLength="9.0" lengthAdjust="spacingAndGlyphs" >50</text>
<text x="178.1" y="757.8" font-size="11.2" font-weight="normal" font-style="normal" fill="#141414" text-anchor="start" textLength="230.3" lengthAdjust="spacingAndGlyphs" stroke="#141414" stroke-width="0.25">12 cases reported from out-of-state facilities.</text>
</svg>
</body></html>
